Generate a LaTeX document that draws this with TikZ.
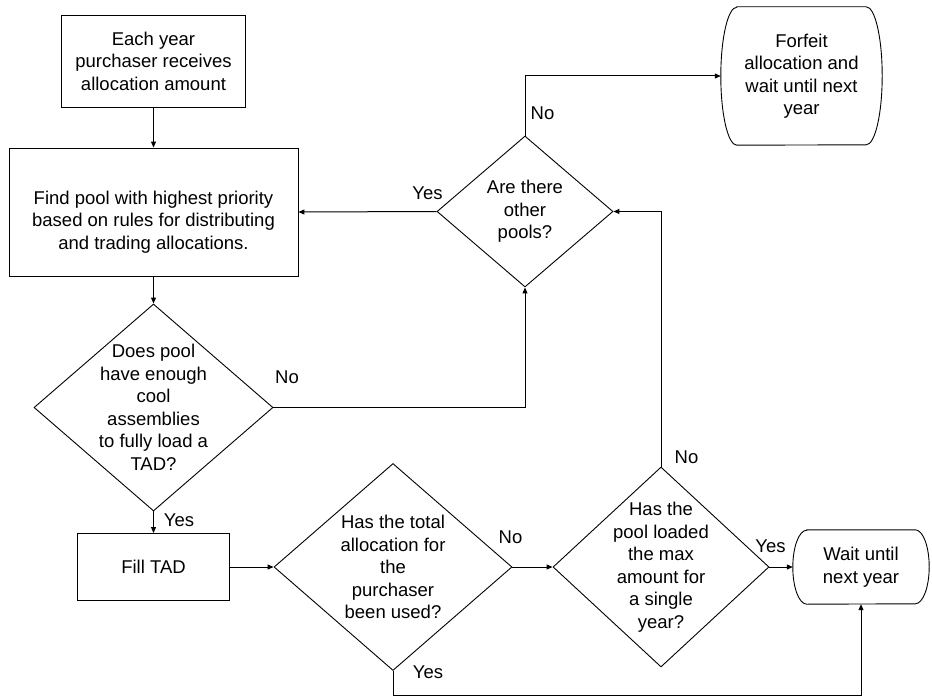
\documentclass[tikz,border=0pt]{standalone}
\usepackage{fontspec}
\setmainfont{Liberation Sans}
\usetikzlibrary{shapes.geometric,arrows.meta}
\begin{document}
\begin{tikzpicture}[x=1pt,y=-1pt,
  txt/.style={align=center,font=\fontsize{18.5}{22.5}\selectfont,inner sep=0pt},
  lab/.style={font=\fontsize{18.5}{22.5}\selectfont,inner sep=0pt},
  boxshape/.style={draw,line width=0.9pt,inner sep=0pt},
  dia/.style={diamond,draw,line width=0.9pt,inner sep=0pt},
  term/.style={inner sep=0pt},
  shapeline/.style={line width=0.9pt},
  arr/.style={line width=1pt,-{Triangle[length=6pt,width=5pt]}}
]
\useasboundingbox (0,0) rectangle (932,698);

% process boxes
\node[boxshape,minimum width=184pt,minimum height=92pt,
  label={[txt]center:{Each year\\purchaser receives\\allocation amount}}] (b1) at (153.5,61) {};
\node[boxshape,minimum width=289pt,minimum height=128pt,
  label={[txt,yshift=-10pt]center:{Find pool with highest priority\\based on rules for distributing\\and trading allocations.}}] (b2) at (153.5,212) {};
\node[boxshape,minimum width=152pt,minimum height=67pt,
  label={[txt]center:{Fill TAD}}] (fill) at (153.5,567) {};

% decisions
\node[dia,minimum width=239pt,minimum height=207pt,
  label={[txt]center:{Does pool\\have enough\\cool\\assemblies\\to fully load a\\TAD?}}] (d1) at (153.5,407.5) {};
\node[dia,minimum width=238pt,minimum height=207pt,
  label={[txt]center:{Has the total\\allocation for\\the\\purchaser\\been used?}}] (d2) at (393,567) {};
\node[dia,minimum width=216pt,minimum height=200pt,
  label={[txt]center:{Has the\\pool loaded\\the max\\amount for\\a single\\year?}}] (d3) at (661,567) {};
\node[dia,minimum width=176pt,minimum height=151pt,
  label={[txt]center:{Are there\\other\\pools?}}] (d4) at (525,211.5) {};

% terminals
\node[term,minimum width=161pt,minimum height=138pt,
  label={[txt]center:{Forfeit\\allocation and\\wait until next\\year}}] (forfeit) at (801.5,76) {};
\draw[shapeline] ([xshift=16pt]forfeit.north west) -- ([xshift=-16pt]forfeit.north east)
  arc[start angle=90,end angle=-90,x radius=16pt,y radius=69pt]
  -- ([xshift=16pt]forfeit.south west)
  arc[start angle=270,end angle=90,x radius=16pt,y radius=69pt] -- cycle;

\node[term,minimum width=136pt,minimum height=74pt,
  label={[txt]center:{Wait until\\next year}}] (wait) at (861,567) {};
\draw[shapeline] ([xshift=14pt]wait.north west) -- ([xshift=-14pt]wait.north east)
  arc[start angle=90,end angle=-90,x radius=14pt,y radius=37pt]
  -- ([xshift=14pt]wait.south west)
  arc[start angle=270,end angle=90,x radius=14pt,y radius=37pt] -- cycle;

% connectors
\draw[arr] (b1.south) -- (b2.north);
\draw[arr] (b2.south) -- (d1.north);
\draw[arr] (d1.east) -| (d4.south);
\draw[arr] (d1.south) -- (fill.north);
\draw[arr] (fill.east) -- (d2.west);
\draw[arr] (d2.east) -- (d3.west);
\coordinate (d2low) at ([yshift=-25pt]d2.south);
\draw[arr] (d2.south) -- (d2low) -| (wait.south);
\draw[arr] (d3.east) -- (wait.west);
\draw[arr] (d3.north) |- (d4.east);
\draw[arr] (d4.west) -- (b2.east);
\draw[arr] (d4.north) |- (forfeit.west);

% labels
\node[lab] (l1) at (287,377) {No};
\node[lab] (l2) at (179,520) {Yes};
\node[lab] (l3) at (510.5,537) {No};
\node[lab] (l4) at (428,672) {Yes};
\node[lab] (l5) at (770.5,546) {Yes};
\node[lab] (l6) at (686.5,457) {No};
\node[lab] (l7) at (427.5,193) {Yes};
\node[lab] (l8) at (542.5,113) {No};
\end{tikzpicture}
\end{document}
